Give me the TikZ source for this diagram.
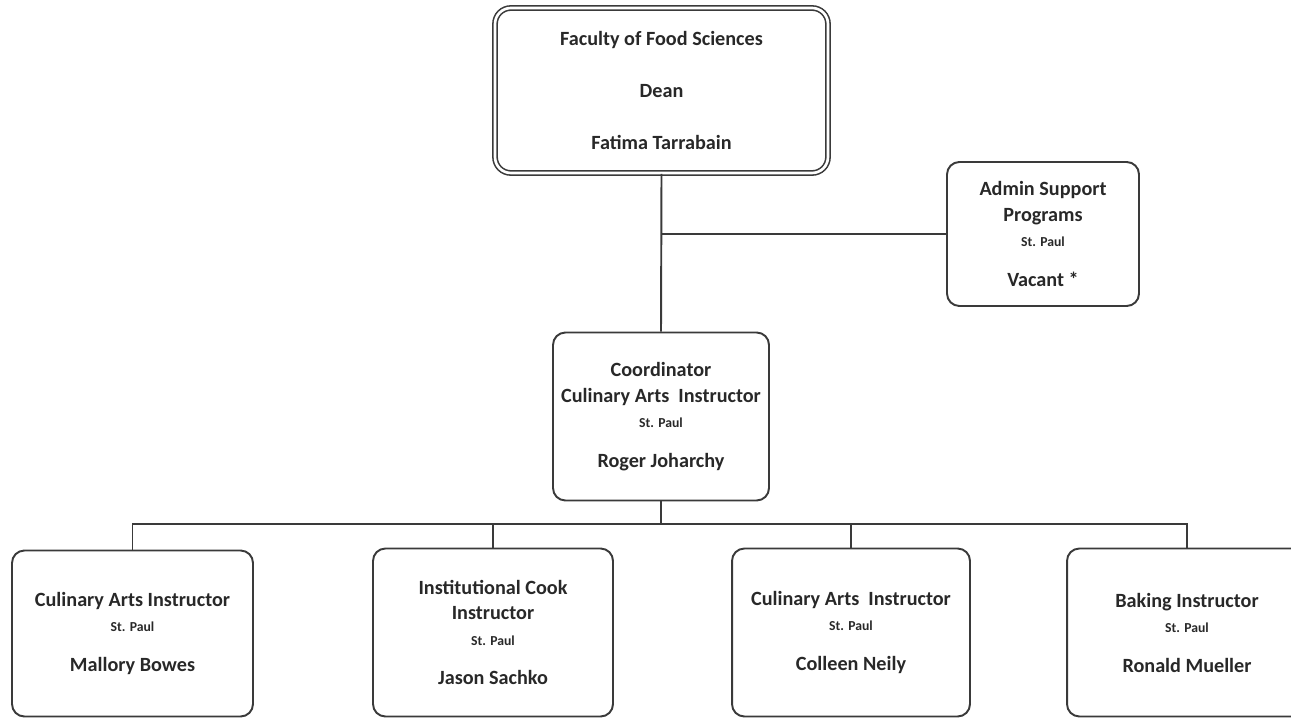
\documentclass[tikz,border=0pt]{standalone}
\usepackage{fontspec}
\setmainfont{Carlito}
\usepackage{tikz}
\usetikzlibrary{positioning,calc}
\definecolor{linecolor}{RGB}{58,58,58}
\definecolor{textcolor}{RGB}{40,40,40}
\newcommand{\sitefont}{\fontsize{7.8}{14.5}\selectfont}

\tikzset{
  orgbox/.style={
    draw=linecolor,
    line width=1.1pt,
    rounded corners=7pt,
    align=center,
    text=textcolor,
    font=\fontsize{11.5}{14.5}\selectfont\bfseries,
    minimum height=3.36cm
  },
  deanbox/.style={
    orgbox,
    double=white,
    double distance=1.5pt,
    line width=0.9pt,
    rounded corners=9pt
  },
  link/.style={draw=linecolor, line width=1.1pt}
}

\begin{document}
\begin{tikzpicture}[x=0.02cm,y=-0.02cm]
\useasboundingbox (0,0) rectangle (1291,719);

% -------- Top box (Dean) --------
\node[deanbox, minimum width=6.66cm, minimum height=3.3cm] (dean) at (661.5,90.5)
{Faculty of Food Sciences\\[15pt] Dean\\[15pt] Fatima Tarrabain};

% -------- Side box (admin support) --------
\node[orgbox, minimum width=3.84cm, minimum height=2.88cm] (admin) at (1043,234)
{Admin Support\\ Programs\\ {\sitefont St. Paul}\\[8pt] Vacant *};

% -------- Middle box (coordinator) --------
\node[orgbox, minimum width=4.32cm] (coord) at (661,416.5)
{Coordinator\\ Culinary Arts~ Instructor\\ {\sitefont St. Paul}\\[8pt] Roger Joharchy};

% -------- Bottom row (instructors) --------
\node[orgbox, minimum width=4.82cm, minimum height=3.32cm] (mallory) at (132.5,633.5)
{Culinary Arts Instructor\\ {\sitefont St. Paul}\\[8pt] Mallory Bowes};
\node[orgbox, minimum width=4.8cm] (jason) at (493,632.5)
{Institutional Cook\\ Instructor\\ {\sitefont St. Paul}\\[8pt] Jason Sachko};
\node[orgbox, minimum width=4.76cm] (colleen) at (851,632.5)
{Culinary Arts~ Instructor\\ {\sitefont St. Paul}\\[8pt] Colleen Neily};
\node[orgbox, minimum width=4.8cm] (ronald) at (1187,632.5)
{Baking Instructor\\ {\sitefont St. Paul}\\[8pt] Ronald Mueller};

% -------- Connectors --------
\coordinate (bus) at (661,524);
\draw[link] (dean.south) -- (coord.north);
\draw[link] (admin.west) -- (admin.west -| dean.south);
\draw[link] (coord.south) -- (bus);
\draw[link] (mallory.north) |- (bus) -| (ronald.north);
\draw[link] (jason.north) -- (jason.north |- bus);
\draw[link] (colleen.north) -- (colleen.north |- bus);

\end{tikzpicture}
\end{document}
